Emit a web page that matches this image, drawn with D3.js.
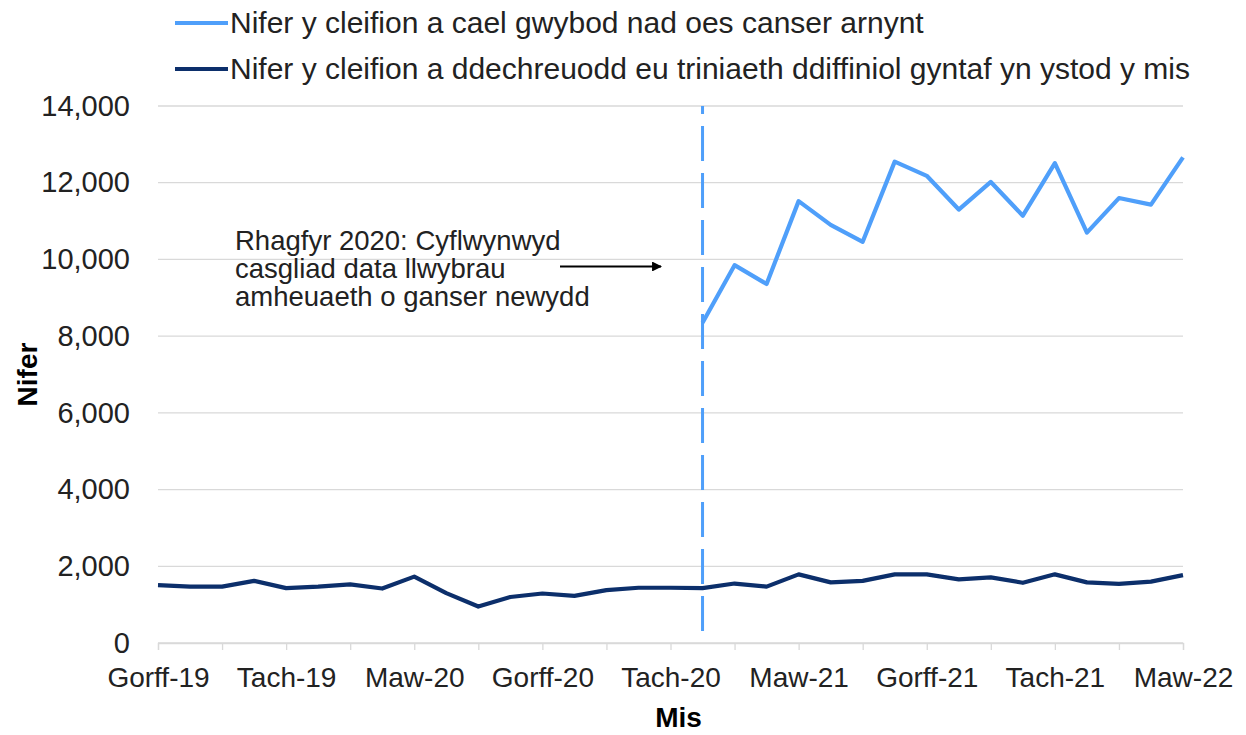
<!DOCTYPE html>
<html>
<head>
<meta charset="utf-8">
<script src="https://cdn.jsdelivr.net/npm/d3@7"></script>
<style>
  body { margin: 0; background: #fff; }
  svg { font-family: "Liberation Sans", Arial, sans-serif; }
  .grid line { stroke: #d9d9d9; stroke-width: 1.3; }
</style>
</head>
<body>
<div class="chart"></div>
<script>
// months on the x axis (Gorff-19 .. Maw-22)
var months = ["Gorff-19","Awst-19","Medi-19","Hyd-19","Tach-19","Rhag-19",
  "Ion-20","Chwef-20","Maw-20","Ebr-20","Mai-20","Meh-20",
  "Gorff-20","Awst-20","Medi-20","Hyd-20","Tach-20","Rhag-20",
  "Ion-21","Chwef-21","Maw-21","Ebr-21","Mai-21","Meh-21",
  "Gorff-21","Awst-21","Medi-21","Hyd-21","Tach-21","Rhag-21",
  "Ion-22","Chwef-22","Maw-22"];

// patients told they do not have cancer (collected from Rhag-20)
var toldNoCancerStart = "Rhag-20";
var toldNoCancer = [8350, 9850, 9360, 11520, 10900, 10460, 12550, 12180,
  11300, 12020, 11140, 12510, 10700, 11600, 11430, 12660];

// patients starting first definitive treatment
var startedTreatment = [1510, 1470, 1470, 1620, 1430, 1470, 1530, 1420, 1730,
  1300, 950, 1200, 1290, 1230, 1380, 1440, 1440, 1430, 1550, 1470, 1790, 1580,
  1620, 1790, 1790, 1660, 1710, 1570, 1790, 1580, 1540, 1600, 1770];

var yTicks = [0, 2000, 4000, 6000, 8000, 10000, 12000, 14000];
var seriesNames = ["Nifer y cleifion a cael gwybod nad oes canser arnynt",
  "Nifer y cleifion a ddechreuodd eu triniaeth ddiffiniol gyntaf yn ystod y mis"];
var noteLines = ["Rhagfyr 2020: Cyflwynwyd", "casgliad data llwybrau",
  "amheuaeth o ganser newydd"];

var lightBlue = "#4f9ffa", navy = "#0c2f6b", textCol = "#222";

var outerWidth = 1246, outerHeight = 735;
var margin = {top: 106, right: 63, bottom: 92, left: 158},
    width = outerWidth - margin.left - margin.right,
    height = outerHeight - margin.top - margin.bottom;

var outer = d3.select(".chart").append("svg")
  .attr("width", outerWidth)
  .attr("height", outerHeight);

var svg = outer.append("g")
  .attr("transform", "translate(" + margin.left + "," + margin.top + ")");

var x = d3.scalePoint().domain(months).range([0, width]);
var y = d3.scaleLinear().domain([0, 14000]).range([height, 0]);

// gridlines
svg.append("g").attr("class", "grid")
  .selectAll("line").data(yTicks).join("line")
  .attr("x1", 0).attr("x2", width)
  .attr("y1", d => y(d)).attr("y2", d => y(d));

// y axis labels
var yAxis = d3.axisLeft(y).tickValues(yTicks).tickSize(0).tickPadding(28)
  .tickFormat(d3.format(","));
svg.append("g").call(yAxis)
  .call(g => g.select(".domain").remove())
  .selectAll("text")
  .attr("font-size", 29).attr("fill", textCol)
  .attr("font-family", "Liberation Sans, Arial, sans-serif");

// x axis: ticks every 2 months, labels every 4
var xAxis = d3.axisBottom(x)
  .tickValues(months.filter((m, i) => i % 2 === 0))
  .tickSize(7).tickPadding(17)
  .tickFormat((m) => months.indexOf(m) % 4 === 0 ? m : "");
var gx = svg.append("g").attr("transform", "translate(0," + height + ")").call(xAxis);
gx.select(".domain").attr("stroke", "#d9d9d9").attr("stroke-width", 1.3);
gx.selectAll(".tick line").attr("stroke", "#d9d9d9").attr("stroke-width", 1.3);
gx.selectAll("text")
  .attr("font-size", 28).attr("fill", textCol)
  .attr("font-family", "Liberation Sans, Arial, sans-serif");

// vertical dashed marker at Rhag-20
svg.append("line")
  .attr("x1", x(toldNoCancerStart)).attr("x2", x(toldNoCancerStart))
  .attr("y1", 0).attr("y2", height)
  .attr("stroke", lightBlue).attr("stroke-width", 3)
  .attr("stroke-dasharray", "35,12").attr("stroke-dashoffset", 27);

var line = d3.line()
  .x(d => x(d.m))
  .y(d => y(d.v));

var startIdx = months.indexOf(toldNoCancerStart);
var lightData = toldNoCancer.map((v, i) => ({m: months[startIdx + i], v: v}));
var darkData = startedTreatment.map((v, i) => ({m: months[i], v: v}));

svg.append("path").attr("d", line(darkData))
  .attr("fill", "none").attr("stroke", navy).attr("stroke-width", 4.2)
  .attr("stroke-linejoin", "round");
svg.append("path").attr("d", line(lightData))
  .attr("fill", "none").attr("stroke", lightBlue).attr("stroke-width", 4.2)
  .attr("stroke-linejoin", "round");

// annotation
var note = outer.append("text")
  .attr("font-size", 27.5).attr("fill", textCol);
note.selectAll("tspan").data(noteLines).join("tspan")
  .attr("x", 235).attr("y", (d, i) => 250 + i * 28)
  .text(d => d);

outer.append("defs").append("marker")
  .attr("id", "arrow").attr("viewBox", "0 0 10 10")
  .attr("refX", 9).attr("refY", 5)
  .attr("markerWidth", 4.5).attr("markerHeight", 4.5)
  .attr("orient", "auto")
  .append("path").attr("d", "M0,0 L10,5 L0,10 Z").attr("fill", "#000");
outer.append("line")
  .attr("x1", 560).attr("x2", 661).attr("y1", 266.5).attr("y2", 266.5)
  .attr("stroke", "#000").attr("stroke-width", 2.2)
  .attr("marker-end", "url(#arrow)");

// legend
var legend = outer.append("g").attr("transform", "translate(175,0)");
[lightBlue, navy].forEach(function(c, i) {
  var ly = 23 + i * 46;
  legend.append("line").attr("x1", 0).attr("x2", 53)
    .attr("y1", ly).attr("y2", ly)
    .attr("stroke", c).attr("stroke-width", 4);
  legend.append("text").attr("x", 55).attr("y", ly + 10)
    .attr("font-size", 30).attr("fill", textCol)
    .text(seriesNames[i]);
});

// axis titles
outer.append("text")
  .attr("transform", "translate(37," + (margin.top + height / 2) + ") rotate(-90)")
  .attr("text-anchor", "middle").attr("font-size", 28).attr("font-weight", "bold")
  .text("Nifer");
outer.append("text")
  .attr("x", margin.left + width / 2 + 8).attr("y", 727)
  .attr("text-anchor", "middle").attr("font-size", 28).attr("font-weight", "bold")
  .text("Mis");
</script>
</body>
</html>
